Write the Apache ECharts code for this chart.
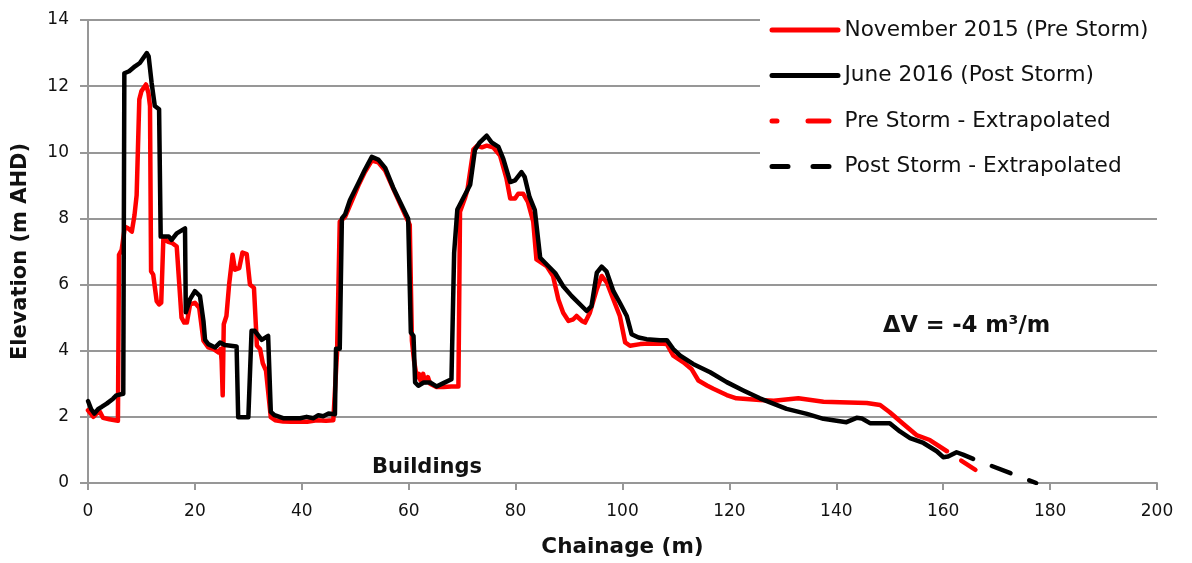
<!DOCTYPE html>
<html>
<head>
<meta charset="utf-8">
<title>Beach profile – pre and post storm</title>
<script src="https://cdn.jsdelivr.net/npm/echarts@6/dist/echarts.min.js"></script>
<style>
  html, body { margin: 0; padding: 0; background: #fff; }
  #chart { width: 1192px; height: 563px; }
</style>
</head>
<body>
<div id="chart"></div>
<script>
// Survey profile: November 2015 (pre storm)
const preChainage = [0, 0.5, 1.0, 1.6, 2.2, 2.8, 4.0, 5.6, 5.8, 6.3, 6.9, 7.5, 8.2, 8.7, 9.1, 9.6, 10.0, 10.85, 11.3, 11.6,
  11.8, 12.2, 12.85, 13.3, 13.7, 14.1, 14.9, 15.8, 16.6, 17.5, 18.0, 18.5, 19.1, 20.0, 20.8, 21.6, 22.5, 23.5, 24.4, 24.8,
  25.0, 25.2, 25.4, 25.9, 26.4, 27.05, 27.5, 28.3, 28.9, 29.7, 30.3, 31.05, 31.6, 32.2, 32.7, 33.3, 34.2, 35.0, 36.5, 38.0,
  39.7, 41.0, 42.8, 44.5, 45.9, 46.6, 47.1, 48.1, 50.6, 51.8, 53.1, 54.3, 55.6, 57.1, 60.2, 60.6, 61.0, 61.5, 61.9, 62.2,
  62.7, 63.1, 63.6, 64.0, 65.2, 66.5, 68.0, 69.3, 69.6, 70.5, 71.0, 72.1, 72.8, 73.7, 74.6, 75.8, 77.1, 78.3, 79.0, 79.9,
  80.5, 81.4, 82.3, 83.3, 83.9, 85.8, 87.0, 88.0, 88.9, 89.9, 90.8, 91.4, 92.4, 93.0, 93.9, 95.2, 96.1, 97.1, 98.3, 99.5,
  100.5, 101.4, 103.3, 105.0, 107.6, 108.3, 109.5, 111.4, 112.9, 114.2, 115.8, 117.0, 119.5, 121.3, 125.7, 128.3, 132.9,
  137.6, 140.7, 145.7, 148.2, 150.0, 152.5, 155.0, 157.5, 160.7];
const preElevation = [2.2, 2.1, 2.0, 2.1, 2.16, 1.97, 1.93, 1.88, 6.9, 7.05, 7.75, 7.7, 7.6, 8.1, 8.7, 11.6, 11.85, 12.05, 11.8, 11.4,
  6.4, 6.3, 5.5, 5.4, 5.45, 7.4, 7.3, 7.25, 7.15, 5.0, 4.85, 4.85, 5.4, 5.45, 5.3, 4.3, 4.1, 4.05, 3.95, 4.05,
  3.7, 2.65, 4.8, 5.05, 6.0, 6.9, 6.45, 6.5, 6.97, 6.92, 6.0, 5.9, 4.15, 4.05, 3.62, 3.4, 1.99, 1.9, 1.86, 1.85,
  1.86, 1.85, 1.9, 1.88, 1.9, 3.96, 7.9, 8.05, 9.0, 9.4, 9.75, 9.7, 9.45, 8.9, 7.8, 4.3, 3.7, 3.2, 3.3, 3.1,
  3.3, 3.05, 3.2, 3.0, 2.9, 2.9, 2.92, 2.92, 8.2, 8.6, 8.87, 10.08, 10.2, 10.15, 10.2, 10.15, 9.9, 9.2, 8.6, 8.6,
  8.75, 8.75, 8.5, 7.9, 6.76, 6.56, 6.26, 5.55, 5.15, 4.9, 4.95, 5.05, 4.9, 4.85, 5.15, 5.86, 6.26, 6.05, 5.55, 5.05,
  4.25, 4.15, 4.2, 4.22, 4.21, 4.2, 3.85, 3.65, 3.45, 3.1, 2.95, 2.85, 2.66, 2.56, 2.51, 2.49, 2.56,
  2.46, 2.44, 2.42, 2.36, 2.14, 1.79, 1.45, 1.3, 0.96];

// Survey profile: June 2016 (post storm)
const postChainage = [0, 0.6, 1.2, 2.0, 2.55, 3.5, 4.7, 5.3, 6.6, 6.8, 7.7, 8.8, 9.7, 10.35, 11.0, 11.35, 11.9, 12.5, 13.3, 13.6,
  15.1, 15.65, 16.6, 18.15, 18.3, 19.1, 20.0, 20.95, 21.6, 21.9, 22.5, 23.8, 24.7, 25.6, 27.8, 28.1, 30.0, 30.6, 31.2, 32.5,
  33.7, 34.2, 34.9, 36.5, 39.7, 40.9, 42.2, 43.1, 44.0, 45.0, 46.2, 46.4, 47.1, 47.5, 48.1, 49.0, 50.6, 51.8, 53.1, 54.3,
  55.6, 57.1, 59.9, 60.4, 60.9, 61.2, 61.8, 62.8, 64.0, 65.2, 66.5, 68.0, 68.5, 69.1, 69.9, 71.5, 72.4, 73.3, 74.6, 75.5,
  76.8, 77.7, 79.0, 79.9, 81.1, 81.7, 82.6, 83.6, 84.6, 85.5, 87.4, 88.9, 90.5, 93.3, 94.2, 95.2, 96.1, 97.0, 98.3, 99.5,
  100.8, 101.7, 103.0, 104.5, 107.0, 108.3, 109.5, 110.8, 113.2, 116.4, 119.5, 122.6, 125.7, 127.6, 130.7, 134.5, 137.6,
  141.9, 143.8, 144.8, 146.3, 150.0, 151.9, 153.8, 156.3, 158.8, 160.0, 160.9, 162.5, 163.7, 165.6];
const postElevation = [2.48, 2.23, 2.1, 2.25, 2.3, 2.4, 2.55, 2.65, 2.7, 12.39, 12.45, 12.6, 12.7, 12.85, 13.0, 12.9, 12.1, 11.4, 11.3, 7.45,
  7.45, 7.35, 7.55, 7.7, 5.16, 5.56, 5.8, 5.65, 4.9, 4.33, 4.2, 4.1, 4.25, 4.17, 4.13, 1.99, 1.99, 4.6, 4.6, 4.33,
  4.45, 2.15, 2.05, 1.96, 1.96, 2.0, 1.96, 2.05, 2.02, 2.1, 2.08, 4.06, 4.06, 8.0, 8.12, 8.55, 9.07, 9.47, 9.86, 9.78,
  9.53, 8.93, 7.99, 4.55, 4.45, 3.04, 2.94, 3.04, 3.04, 2.92, 3.02, 3.14, 6.96, 8.27, 8.52, 9.02, 10.08, 10.3, 10.5, 10.3,
  10.16, 9.8, 9.1, 9.15, 9.4, 9.25, 8.65, 8.25, 6.81, 6.66, 6.35, 5.95, 5.65, 5.2, 5.35, 6.36, 6.54, 6.4, 5.8, 5.45,
  5.05, 4.5, 4.4, 4.35, 4.32, 4.32, 4.05, 3.85, 3.6, 3.35, 3.05, 2.8, 2.56, 2.44, 2.24, 2.09, 1.94,
  1.84, 1.97, 1.95, 1.81, 1.81, 1.56, 1.36, 1.21, 0.96, 0.78, 0.8, 0.93, 0.86, 0.73];

// Extrapolated toes of each profile
const preExtrapChainage = [160.7, 166.5];
const preExtrapElevation = [0.96, 0.35];
const postExtrapChainage = [165.6, 177.4];
const postExtrapElevation = [0.73, 0.0];

// Axis ticks
const chainageTicks = { min: 0, max: 200, step: 20 };
const elevationTicks = { min: 0, max: 14, step: 2 };

const seriesNames = [
  'November 2015 (Pre Storm)',
  'June 2016 (Post Storm)',
  'Pre Storm - Extrapolated',
  'Post Storm - Extrapolated'
];
const volumeChangeText = 'ΔV = -4 m³/m';
const buildingsText = 'Buildings';

const pairs = (xs, ys) => xs.map((x, i) => [x, ys[i]]);

const FONT = 'DejaVu Sans, Verdana, sans-serif';
const GRID_GREY = '#979797';
const LINE_W = 4.5;
const RED = '#ff0000';
const BLACK = '#000000';

const chart = echarts.init(document.getElementById('chart'), null, { renderer: 'canvas' });

const lineSeries = (name, data, color, dash, dashOffset, z) => ({
  name: name,
  type: 'line',
  data: data,
  showSymbol: false,
  symbol: 'none',
  smooth: false,
  z: z,
  lineStyle: {
    color: color,
    width: LINE_W,
    type: dash || 'solid',
    dashOffset: dashOffset || 0,
    cap: 'round',
    join: 'round'
  },
  itemStyle: { color: color },
  emphasis: { disabled: true }
});

// Legend swatches: plain line samples, no point marker
const legendItem = (name, color, dash) => ({
  name: name,
  itemStyle: { color: 'rgba(0,0,0,0)', borderColor: 'rgba(0,0,0,0)', borderWidth: 0, opacity: 0 },
  lineStyle: { color: color, width: 5, type: dash || 'solid', dashOffset: 0, cap: 'round' }
});

chart.setOption({
  animation: false,
  backgroundColor: '#ffffff',
  textStyle: { fontFamily: FONT },
  grid: { left: 88, right: 35, top: 20, bottom: 79, containLabel: false },
  xAxis: {
    type: 'value',
    min: chainageTicks.min,
    max: chainageTicks.max,
    interval: chainageTicks.step,
    name: 'Chainage (m)',
    nameLocation: 'middle',
    nameGap: 53,
    nameTextStyle: { fontFamily: FONT, fontSize: 21.5, fontWeight: 'bold', color: '#111' },
    axisLine: { show: true, onZero: false, lineStyle: { color: GRID_GREY, width: 2 } },
    axisTick: { show: true, inside: false, length: 7, lineStyle: { color: GRID_GREY, width: 2 } },
    axisLabel: { fontFamily: FONT, fontSize: 17, color: '#111', margin: 20 },
    splitLine: { show: false }
  },
  yAxis: {
    type: 'value',
    min: elevationTicks.min,
    max: elevationTicks.max,
    interval: elevationTicks.step,
    name: 'Elevation (m AHD)',
    nameLocation: 'middle',
    nameRotate: 90,
    nameGap: 57,
    nameTextStyle: { fontFamily: FONT, fontSize: 21, fontWeight: 'bold', color: '#111' },
    axisLine: { show: true, lineStyle: { color: GRID_GREY, width: 2 } },
    axisTick: { show: true, inside: false, length: 8, lineStyle: { color: GRID_GREY, width: 2 } },
    axisLabel: { fontFamily: FONT, fontSize: 17, color: '#111', margin: 19 },
    splitLine: { show: true, lineStyle: { color: GRID_GREY, width: 2 } }
  },
  legend: {
    orient: 'vertical',
    left: 760,
    top: 0,
    padding: [19, 20, 18, 9.5],
    itemWidth: 66,
    itemHeight: 14,
    itemGap: 23.5,
    backgroundColor: '#ffffff',
    selectedMode: false,
    itemStyle: { color: 'rgba(0,0,0,0)', borderColor: 'rgba(0,0,0,0)', borderWidth: 0, opacity: 0 },
    textStyle: { fontFamily: FONT, fontSize: 21.6, color: '#111', padding: [0, 0, 0, 1.5] },
    data: [
      legendItem(seriesNames[0], RED),
      legendItem(seriesNames[1], BLACK),
      legendItem(seriesNames[2], RED, [5, 31, 21, 40]),
      legendItem(seriesNames[3], BLACK, [16, 25, 16, 40])
    ]
  },
  graphic: [
    {
      type: 'text',
      left: 883,
      top: 315,
      style: { text: volumeChangeText, font: 'bold 22.5px ' + FONT, fill: '#111' }
    },
    {
      type: 'text',
      left: 372,
      top: 457,
      style: { text: buildingsText, font: 'bold 21px ' + FONT, fill: '#111' }
    }
  ],
  series: [
    lineSeries(seriesNames[0], pairs(preChainage, preElevation), RED, null, 0, 2),
    lineSeries(seriesNames[1], pairs(postChainage, postElevation), BLACK, null, 0, 3),
    lineSeries(seriesNames[2], pairs(preExtrapChainage, preExtrapElevation), RED, [17, 17], 17, 2),
    lineSeries(seriesNames[3], pairs(postExtrapChainage, postExtrapElevation), BLACK, [20, 20], 20, 3)
  ]
});
</script>
</body>
</html>
